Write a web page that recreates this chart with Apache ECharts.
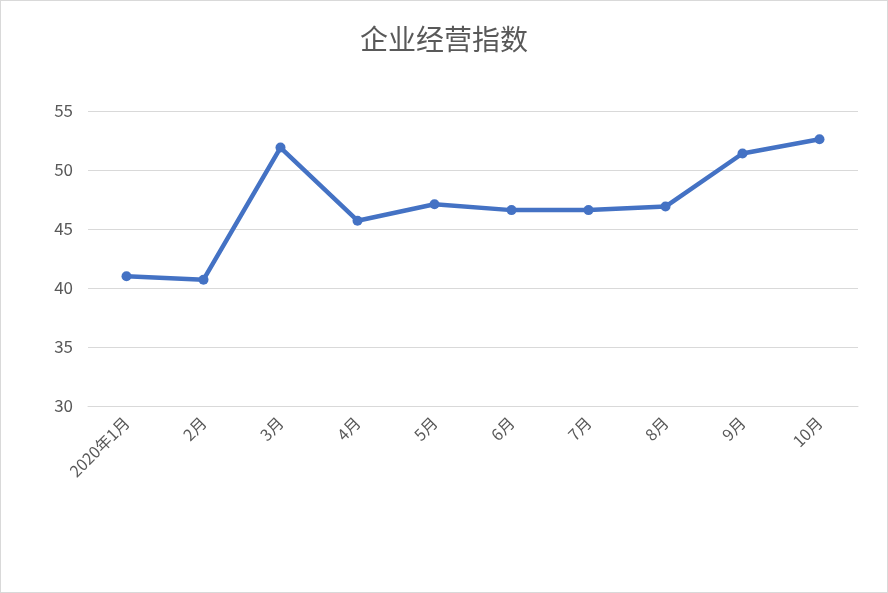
<!DOCTYPE html>
<html>
<head>
<meta charset="utf-8">
<script src="https://cdn.jsdelivr.net/npm/echarts@6/dist/echarts.min.js"></script>
<style>
html,body{margin:0;padding:0;background:#fff;}
#c{width:886px;height:591px;border:1px solid #d9d9d9;}
</style>
</head>
<body>
<div id="c"></div>
<script>
const categories = ['2020年1月','2月','3月','4月','5月','6月','7月','8月','9月','10月'];
const values = [41.0, 40.7, 51.9, 45.7, 47.1, 46.6, 46.6, 46.9, 51.4, 52.6];
const yTicks = { min: 30, max: 55, interval: 5 };
const titleText = '企业经营指数';

const font = '"Noto Sans CJK SC", "Noto Sans", sans-serif';
const chart = echarts.init(document.getElementById('c'));
chart.setOption({
  animation: false,
  title: {
    text: titleText, left: 'center', top: 19,
    textStyle: { fontFamily: font, fontSize: 28, fontWeight: 'normal', color: '#595959' }
  },
  grid: { left: 87, right: 29, top: 110, bottom: 186, containLabel: false },
  xAxis: {
    type: 'category', data: categories, boundaryGap: true,
    axisLine: { show: true, lineStyle: { color: '#d9d9d9', width: 1 } },
    axisTick: { show: false },
    axisLabel: { rotate: 45, margin: 14, color: '#595959', fontSize: 16, fontFamily: font, interval: 0 }
  },
  yAxis: {
    type: 'value', min: yTicks.min, max: yTicks.max, interval: yTicks.interval,
    axisLine: { show: false }, axisTick: { show: false },
    splitLine: { lineStyle: { color: '#d9d9d9', width: 1 } },
    axisLabel: { margin: 15, color: '#595959', fontSize: 17, fontFamily: font }
  },
  series: [{
    type: 'line', data: values,
    lineStyle: { color: '#4472C4', width: 4.5 },
    itemStyle: { color: '#4472C4' },
    symbol: 'circle', symbolSize: 10, showSymbol: true
  }]
});
</script>
</body>
</html>
